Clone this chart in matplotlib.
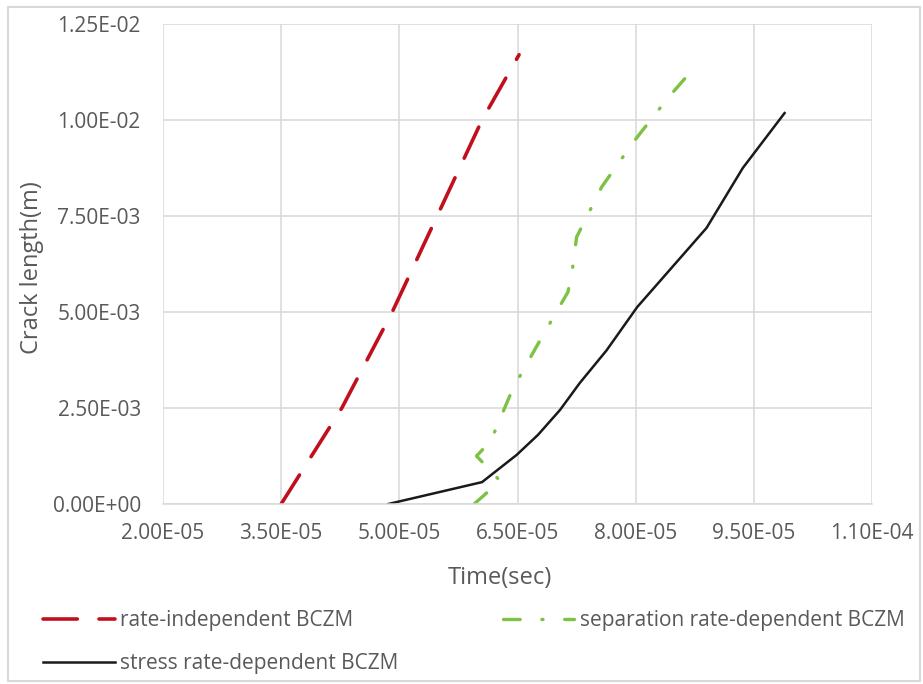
import matplotlib
matplotlib.use("Agg")
import matplotlib.pyplot as plt
from matplotlib.ticker import FuncFormatter, FixedLocator
from matplotlib.patches import Rectangle

plt.rcParams['font.family'] = ['Open Sans', 'DejaVu Sans']

# ---- data ----
x_ticks = [2.0e-5, 3.5e-5, 5.0e-5, 6.5e-5, 8.0e-5, 9.5e-5, 1.1e-4]
y_ticks = [0.0, 2.5e-3, 5.0e-3, 7.5e-3, 1.0e-2, 1.25e-2]

rate_indep_t = [3.50e-5, 4.27e-5, 4.91e-5, 5.48e-5, 6.05e-5, 6.52e-5]
rate_indep_a = [0.0, 2.5e-3, 5.0e-3, 7.5e-3, 1.0e-2, 1.17e-2]

sep_t = [5.95e-5, 6.28e-5, 5.98e-5, 6.16e-5, 6.44e-5, 6.78e-5, 7.14e-5,
         7.19e-5, 7.25e-5, 7.57e-5, 7.98e-5, 8.42e-5, 8.74e-5]
sep_a = [0.0, 6.0e-4, 1.25e-3, 1.64e-3, 3.0e-3, 4.24e-3, 5.52e-3,
         6.0e-3, 6.95e-3, 8.26e-3, 9.45e-3, 1.06e-2, 1.135e-2]

stress_t = [4.86e-5, 6.05e-5, 6.49e-5, 6.76e-5, 7.04e-5, 7.29e-5, 7.63e-5,
            8.02e-5, 8.90e-5, 9.36e-5, 9.89e-5]
stress_a = [0.0, 5.7e-4, 1.28e-3, 1.80e-3, 2.45e-3, 3.15e-3, 4.0e-3,
            5.13e-3, 7.19e-3, 8.75e-3, 1.018e-2]

labels = ["rate-independent BCZM", "separation rate-dependent BCZM",
          "stress rate-dependent BCZM"]

W, H = 923, 684
fig = plt.figure(figsize=(W / 100, H / 100), dpi=100)
ax = fig.add_axes([163 / W, 1 - 504 / H, (872 - 163) / W, (504 - 24) / H])

txt = '#595959'
grid = '#d9d9d9'

l1, = ax.plot(rate_indep_t, rate_indep_a, color='#C0101E', lw=2.6,
              dashes=(9.5, 6), dash_capstyle='round')
l2, = ax.plot(sep_t, sep_a, color='#7DC242', lw=2.4,
              dashes=(5.0, 6.5, 0.35, 6.5), dash_capstyle='round')
l3, = ax.plot(stress_t, stress_a, color='#1a1a1a', lw=1.8)

ax.set_xlim(x_ticks[0], x_ticks[-1])
ax.set_ylim(y_ticks[0], y_ticks[-1])
ax.xaxis.set_major_locator(FixedLocator(x_ticks))
ax.yaxis.set_major_locator(FixedLocator(y_ticks))
fmt = FuncFormatter(lambda v, p: f"{v:.2E}")
ax.xaxis.set_major_formatter(fmt)
ax.yaxis.set_major_formatter(fmt)
ax.tick_params(axis='both', length=0, labelsize=15, labelcolor=txt)
ax.tick_params(axis='y', pad=16)
ax.tick_params(axis='x', pad=14)
ax.grid(True, color=grid, lw=1.1)
ax.set_axisbelow(True)
for s in ['top', 'right', 'left']:
    ax.spines[s].set_visible(False)
ax.spines['bottom'].set_color(grid)
ax.spines['bottom'].set_linewidth(1.1)

fig.text(500 / W, 1 - 578 / H, "Time(sec)", fontsize=17, color=txt,
         ha='center', va='center')
fig.text(32 / W, 1 - 268 / H, "Crack length(m)", fontsize=17, color=txt,
         ha='center', va='center', rotation=90)

leg = fig.legend([l1, l3, l2], [labels[0], labels[2], labels[1]], ncol=2,
                 loc='upper left', bbox_to_anchor=(43 / W, 1 - 610 / H),
                 frameon=False, fontsize=15, handlelength=3.45,
                 handletextpad=0.25, columnspacing=5.0, labelspacing=1.05,
                 borderaxespad=0, borderpad=0)
for t in leg.get_texts():
    t.set_color(txt)

fig.patches.append(Rectangle((8 / W, 1 - 681 / H), (920 - 8) / W, (681 - 7) / H,
                             transform=fig.transFigure, fill=False,
                             edgecolor='#d9d9d9', lw=1.5))

fig.savefig("out.png", dpi=100, facecolor='white')
